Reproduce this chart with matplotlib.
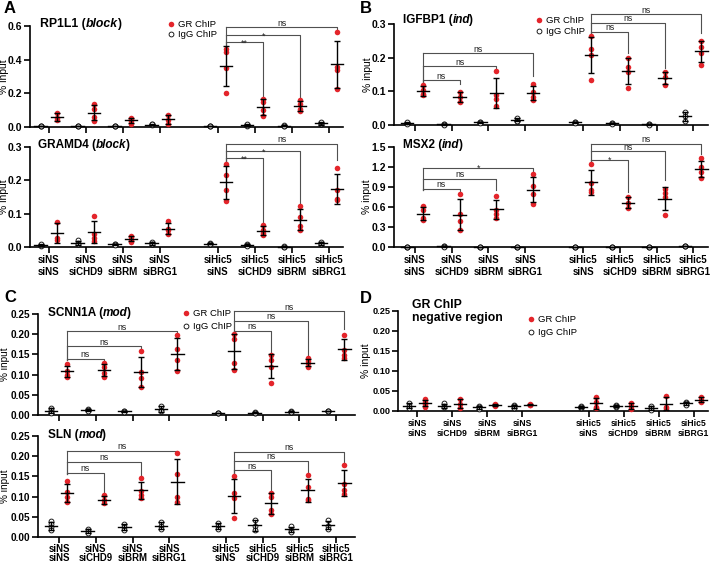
import numpy as np
import matplotlib
matplotlib.use("Agg")
import matplotlib.pyplot as plt
from matplotlib.lines import Line2D

plt.rcParams['font.family'] = ['Liberation Sans', 'DejaVu Sans']

# ---------------- data ----------------
CONDITIONS = ["siNS\nsiNS", "siNS\nsiCHD9", "siNS\nsiBRM", "siNS\nsiBRG1",
              "siHic5\nsiNS", "siHic5\nsiCHD9", "siHic5\nsiBRM", "siHic5\nsiBRG1"]

# A - RP1L1 (block)
RP1L1_GR = [[0.085, 0.055, 0.04], [0.139, 0.109, 0.06, 0.036], [0.055, 0.045, 0.035, 0.02],
            [0.07, 0.044, 0.02], [0.461, 0.447, 0.348, 0.203], [0.169, 0.149, 0.099, 0.064],
            [0.159, 0.139, 0.109, 0.093], [0.566, 0.358, 0.338, 0.228]]
RP1L1_IGG = [[0.004, 0.006, 0.005], [0.003, 0.005, 0.004], [0.004, 0.006, 0.005],
             [0.01, 0.015, 0.018], [0.005, 0.007, 0.006], [0.008, 0.012, 0.015],
             [0.006, 0.01, 0.004], [0.015, 0.02, 0.028]]
RP1L1_SIG = [(4, 5, "**"), (4, 6, "*"), (4, 7, "ns")]

# A - GRAMD4 (block)
GRAMD4_GR = [[0.075, 0.027, 0.022], [0.093, 0.04, 0.028, 0.018], [0.033, 0.03, 0.022, 0.015],
             [0.077, 0.055, 0.05, 0.04], [0.25, 0.217, 0.172, 0.137], [0.066, 0.052, 0.043, 0.035],
             [0.122, 0.09, 0.062, 0.052], [0.237, 0.17, 0.145, 0.14]]
GRAMD4_IGG = [[0.004, 0.006, 0.008], [0.02, 0.012, 0.008], [0.008, 0.01, 0.006],
              [0.016, 0.01, 0.008], [0.012, 0.008, 0.01], [0.008, 0.005, 0.004],
              [0.001, 0.002, 0.0], [0.016, 0.01, 0.008]]
GRAMD4_SIG = [(4, 5, "**"), (4, 6, "*"), (4, 7, "ns")]

# B - IGFBP1 (ind)
IGFBP1_GR = [[0.12, 0.103, 0.093, 0.088], [0.098, 0.083, 0.069], [0.16, 0.088, 0.078, 0.056],
             [0.121, 0.098, 0.083, 0.073], [0.264, 0.225, 0.208, 0.135], [0.2, 0.173, 0.158, 0.111],
             [0.156, 0.143, 0.12], [0.25, 0.232, 0.214, 0.178]]
IGFBP1_IGG = [[0.006, 0.004, 0.008], [0.002, 0.003, 0.001], [0.008, 0.01, 0.006],
              [0.02, 0.013, 0.012], [0.008, 0.01, 0.006], [0.005, 0.006, 0.004],
              [0.002, 0.003, 0.001], [0.04, 0.026, 0.012]]
IGFBP1_SIG = [(0, 1, "ns"), (0, 2, "ns"), (0, 3, "ns"), (4, 5, "ns"), (4, 6, "ns"), (4, 7, "ns")]

# B - MSX2 (ind)
MSX2_GR = [[0.61, 0.55, 0.44, 0.4], [0.8, 0.5, 0.39, 0.26], [0.765, 0.56, 0.5, 0.44],
           [1.1, 0.91, 0.8, 0.64], [1.24, 0.96, 0.86, 0.825], [0.75, 0.66, 0.59],
           [0.875, 0.81, 0.75, 0.475], [1.33, 1.2, 1.12, 1.03]]
MSX2_IGG = [[0.0, 0.002, 0.001], [0.01, 0.015, 0.005], [0.0, 0.001, 0.002],
            [0.0, 0.001, 0.002], [0.0, 0.001, 0.002], [0.0, 0.001, 0.002],
            [0.0, 0.001, 0.002], [0.015, 0.01, 0.02]]
MSX2_SIG = [(0, 1, "ns"), (0, 2, "ns"), (0, 3, "*"), (4, 5, "*"), (4, 6, "ns"), (4, 7, "ns")]

# C - SCNN1A (mod)
SCNN1A_GR = [[0.126, 0.11, 0.1, 0.095], [0.128, 0.118, 0.103, 0.095], [0.159, 0.106, 0.091, 0.07],
             [0.199, 0.163, 0.135, 0.108], [0.2, 0.189, 0.128, 0.112], [0.149, 0.137, 0.12, 0.079],
             [0.14, 0.133, 0.128, 0.118], [0.199, 0.161, 0.149, 0.141]]
SCNN1A_IGG = [[0.018, 0.012, 0.008, 0.006], [0.015, 0.012, 0.01], [0.009, 0.01, 0.008],
              [0.023, 0.012, 0.01], [0.006, 0.004, 0.005], [0.007, 0.005, 0.004],
              [0.009, 0.008, 0.007], [0.011, 0.01, 0.009]]
SCNN1A_SIG = [(0, 1, "ns"), (0, 2, "ns"), (0, 3, "ns"), (4, 5, "ns"), (4, 6, "ns"), (4, 7, "ns")]

# C - SLN (mod)
SLN_GR = [[0.139, 0.112, 0.098, 0.087], [0.103, 0.091, 0.083], [0.146, 0.115, 0.105, 0.097],
          [0.207, 0.157, 0.098, 0.087], [0.15, 0.11, 0.096, 0.047], [0.11, 0.098, 0.068, 0.056],
          [0.153, 0.124, 0.095, 0.091], [0.178, 0.132, 0.116, 0.106]]
SLN_IGG = [[0.04, 0.031, 0.025, 0.017], [0.021, 0.015, 0.01], [0.031, 0.025, 0.018],
           [0.037, 0.026, 0.021], [0.035, 0.026, 0.021], [0.043, 0.026, 0.017],
           [0.026, 0.018, 0.012], [0.041, 0.026, 0.021]]
SLN_SIG = [(0, 1, "ns"), (0, 2, "ns"), (0, 3, "ns"), (4, 5, "ns"), (4, 6, "ns"), (4, 7, "ns")]

# D - negative region
NEG_GR = [[0.03, 0.023, 0.017, 0.011], [0.03, 0.017, 0.008], [0.017, 0.013, 0.015],
          [0.016, 0.015, 0.017], [0.036, 0.023, 0.011, 0.007], [0.019, 0.013, 0.005],
          [0.038, 0.011, 0.007], [0.036, 0.028, 0.022]]
NEG_IGG = [[0.019, 0.013, 0.007], [0.019, 0.013, 0.009], [0.013, 0.005, 0.009],
           [0.016, 0.008, 0.012], [0.013, 0.007, 0.01], [0.016, 0.009, 0.012],
           [0.013, 0.007, 0.003], [0.023, 0.019, 0.015]]

# ---------------- layout ----------------
W, H = 713, 563
fig = plt.figure(figsize=(W / 100, H / 100), dpi=100)
RED = '#e4252b'
BRK = '#505050'
OFF = 0.22


def box(l, r, top, bot):
    return [l / W, 1 - bot / H, (r - l) / W, (bot - top) / H]


def make_panel(l, r, top, bot, xlim, gap, ymax, ystep, fmt, gr, igg, labels=True,
               xfs=7.0, xls=1.2, yfs=7.5, ylab_px=8, xpad=2, ylfs=7.5):
    ax = fig.add_axes(box(l, r, top, bot))
    centers = np.array([0, 1, 2, 3, gap, gap + 1, gap + 2, gap + 3])
    for c, pts in zip(centers, igg):
        x = c - OFF
        ax.plot(np.full(len(pts), x), pts, 'o', ms=3.5, mfc='white', mec='black', mew=0.6,
                zorder=3, clip_on=False)
        m, s = np.mean(pts), np.std(pts, ddof=1)
        ax.plot([x - 0.17, x + 0.17], [m, m], color='black', lw=1.0, zorder=4, clip_on=False)
        ax.errorbar([x], [m], yerr=[s], fmt='none', ecolor='black', elinewidth=1.0,
                    capsize=2, capthick=1.0, zorder=4, clip_on=False)
    for c, pts in zip(centers, gr):
        x = c + OFF
        ax.plot(np.full(len(pts), x), pts, 'o', ms=4.0, color=RED, mec='none',
                zorder=3, clip_on=False)
        m, s = np.mean(pts), np.std(pts, ddof=1)
        ax.plot([x - 0.17, x + 0.17], [m, m], color='black', lw=1.0, zorder=4, clip_on=False)
        ax.errorbar([x], [m], yerr=[s], fmt='none', ecolor='black', elinewidth=1.0,
                    capsize=2, capthick=1.0, zorder=4, clip_on=False)
    ax.set_xlim(*xlim)
    ax.set_ylim(0, ymax)
    yt = np.arange(0, ymax + ystep / 2, ystep)
    ax.set_yticks(yt)
    ax.set_yticklabels([fmt % v for v in yt], fontsize=yfs, fontweight='bold')
    ax.set_xticks(centers)
    if labels:
        ax.set_xticklabels(CONDITIONS, fontsize=xfs, fontweight='bold', linespacing=xls)
    else:
        ax.set_xticklabels([])
    for sp in ['top', 'right']:
        ax.spines[sp].set_visible(False)
    for sp in ['left', 'bottom']:
        ax.spines[sp].set_linewidth(1.2)
    ax.tick_params(direction='out', length=4, width=1.2, pad=2)
    ax.tick_params(axis='x', pad=xpad)
    ax.tick_params(axis='y', pad=1.5)
    ax.patch.set_alpha(0)
    ax.set_ylabel('% input', fontsize=ylfs)
    ax.yaxis.set_label_coords((ylab_px - l) / (r - l), 0.5)
    return ax, centers


def brackets(ax, centers, sig, ylines, ytargets, yleft):
    for (i0, i1, lab), yl, yt in zip(sig, ylines, ytargets):
        x0, x1 = centers[i0] + OFF, centers[i1] + OFF
        ax.plot([x0, x0], [yleft[i0 // 4], yl], color=BRK, lw=0.8, clip_on=False)
        ax.plot([x0, x1, x1], [yl, yl, yt], color=BRK, lw=0.8, clip_on=False)
        dy = 1.0 if lab == 'ns' else -2.5
        ax.annotate(lab, xy=((x0 + x1) / 2, yl), xytext=(0, dy), textcoords='offset points',
                    ha='center', va='baseline', fontsize=6.3, color='#222',
                    annotation_clip=False)


def legend(ax, px, py, spacing):
    h = [Line2D([], [], marker='o', ls='none', ms=4.0, color=RED, mec='none'),
         Line2D([], [], marker='o', ls='none', ms=3.5, mfc='white', mec='black', mew=0.6)]
    ax.legend(h, ['GR ChIP', 'IgG ChIP'], loc='upper left', frameon=False,
              bbox_to_anchor=(px / W, 1 - py / H), bbox_transform=fig.transFigure,
              fontsize=6.8, handlelength=0.5, handletextpad=0.45, borderpad=0,
              borderaxespad=0, labelspacing=spacing)


def title(ax, px, py, parts, size=8.5):
    t = fig.text(px / W, 1 - py / H, parts[0], fontsize=size, fontweight='bold', va='baseline')
    t2 = ax.annotate(parts[1], xy=(1, 0), xycoords=t, va='bottom', ha='left', fontsize=size,
                     fontweight='bold', fontstyle='italic', annotation_clip=False)
    ax.annotate(parts[2], xy=(1, 0), xycoords=t2, xytext=(-0.7, 0), textcoords='offset points',
                va='bottom', ha='left', fontsize=size, fontweight='bold', annotation_clip=False)


# Panel A top
ax, cen = make_panel(30, 343, 26, 127, (-0.51, 7.95), 4.57, 0.6, 0.2, '%.1f',
                     RP1L1_GR, RP1L1_IGG, labels=False, ylab_px=9)
brackets(ax, cen, RP1L1_SIG, [0.505, 0.547, 0.594], [0.185, 0.175, 0.564], [0, 0.487])
legend(ax, 169, 20, 0.15)
title(ax, 40, 27, ["RP1L1 (", "block", ")"], size=8.8)

# Panel A bottom
ax, cen = make_panel(30, 343, 147, 247, (-0.51, 7.95), 4.57, 0.3, 0.1, '%.1f',
                     GRAMD4_GR, GRAMD4_IGG, ylab_px=9)
brackets(ax, cen, GRAMD4_SIG, [0.267, 0.287, 0.31], [0.072, 0.132, 0.26], [0, 0.257])
title(ax, 38, 148, ["GRAMD4 (", "block", ")"])

# Panel B top
ax, cen = make_panel(394, 708, 24, 125, (-0.57, 7.98), 4.58, 0.3, 0.1, '%.1f',
                     IGFBP1_GR, IGFBP1_IGG, labels=False, ylab_px=373)
brackets(ax, cen, IGFBP1_SIG, [0.133, 0.175, 0.2126, 0.277, 0.304, 0.33],
         [0.121, 0.163, 0.145, 0.213, 0.168, 0.272], [0.125, 0.272])
legend(ax, 537, 16, 0.25)
title(ax, 403, 23, ["IGFBP1 (", "ind", ")"])

# Panel B bottom
ax, cen = make_panel(394, 708, 147, 247, (-0.57, 7.98), 4.58, 1.5, 0.3, '%.1f',
                     MSX2_GR, MSX2_IGG, ylab_px=372)
brackets(ax, cen, MSX2_SIG, [0.875, 1.025, 1.19, 1.31, 1.44, 1.55],
         [0.825, 0.85, 1.125, 0.825, 1.0, 1.4], [0.85, 1.275])
title(ax, 403, 148, ["MSX2 (", "ind", ")"])

# Panel C top
ax, cen = make_panel(38, 355, 314, 415, (-0.57, 8.05), 4.54, 0.25, 0.05, '%.2f',
                     SCNN1A_GR, SCNN1A_IGG, labels=False, ylab_px=10, yfs=7.2, ylfs=7.2)
brackets(ax, cen, SCNN1A_SIG, [0.139, 0.17, 0.207, 0.209, 0.233, 0.257],
         [0.131, 0.161, 0.203, 0.153, 0.145, 0.214], [0.137, 0.203])
legend(ax, 184, 309, 0.45)
title(ax, 48, 316, ["SCNN1A (", "mod", ")"])

# Panel C bottom
ax, cen = make_panel(38, 355, 436, 537, (-0.57, 8.05), 4.54, 0.25, 0.05, '%.2f',
                     SLN_GR, SLN_IGG, xfs=6.9, xls=0.88, ylab_px=10, xpad=1, yfs=7.2, ylfs=7.2)
brackets(ax, cen, SLN_SIG, [0.159, 0.186, 0.214, 0.166, 0.189, 0.211],
         [0.108, 0.153, 0.207, 0.116, 0.157, 0.182], [0.157, 0.157])
title(ax, 48, 438, ["SLN (", "mod", ")"])

# Panel D
ax, cen = make_panel(398, 708, 311, 411, (-0.54, 8.31), 4.9, 0.25, 0.05, '%.2f',
                     NEG_GR, NEG_IGG, xfs=6.2, xls=1.15, yfs=6.6, ylab_px=371)
legend(ax, 529, 315, 0.45)
fig.text(412 / W, 1 - 308 / H, "GR ChIP", fontsize=8.8, fontweight='bold', va='baseline')
fig.text(412 / W, 1 - 321 / H, "negative region", fontsize=8.8, fontweight='bold', va='baseline')

# Panel letters
for lx, ly, lt in [(4, 1, 'A'), (360, 1, 'B'), (4, 290, 'C'), (360, 291, 'D')]:
    fig.text(lx / W, 1 - ly / H, lt, fontsize=12, fontweight='bold', va='top', ha='left')

fig.savefig('out.png', dpi=100)
